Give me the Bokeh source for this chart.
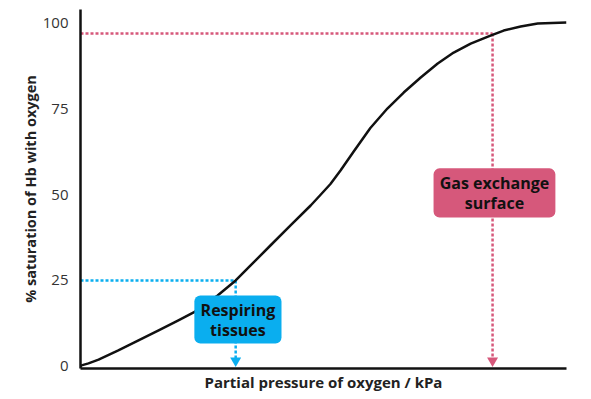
from bokeh.plotting import figure
from bokeh.models import FixedTicker, BoxAnnotation, Range1d, Label
from bokeh.embed import file_html
from bokeh.resources import INLINE

# ---- data ----
pressure_kpa = [0.0, 0.03, 0.23, 0.52, 1.09, 1.67, 2.25, 2.82, 3.26, 3.95, 4.47, 4.90,
                5.47, 6.05, 6.63, 6.91, 7.20, 7.49, 7.87, 8.35, 8.84, 9.31, 9.80, 10.29,
                10.75, 11.24, 11.81, 12.19, 12.68, 13.17, 14.0]
saturation = [0.0, 0.3, 0.9, 2.0, 4.65, 7.56, 10.47, 13.37, 15.7, 20.64, 25.0, 29.36,
              35.17, 40.99, 46.8, 49.85, 53.05, 56.98, 62.5, 69.33, 75.0, 79.65, 84.01, 88.08,
              91.28, 93.9, 96.2, 97.67, 98.84, 99.7, 100.0]

tissue_po2, tissue_sat = 4.47, 25.0
lung_po2, lung_sat = 11.87, 96.8
y_ticks = [0, 25, 50, 75, 100]

tissue_label = ["Respiring", "tissues"]
lung_label = ["Gas exchange", "surface"]

BLUE = "#0AAEEF"
PINK = "#D6587B"
FONT = "Open Sans"

p = figure(width=590, height=398, output_backend="svg", toolbar_location=None,
           x_range=Range1d(0, 14), y_range=Range1d(-0.6, 103.8),
           min_border_left=80, min_border_right=24, min_border_top=9, min_border_bottom=30)
p.outline_line_color = None
p.xgrid.visible = False
p.ygrid.visible = False
p.background_fill_color = "white"
p.border_fill_color = "white"

# y axis
ya = p.yaxis[0]
ya.ticker = FixedTicker(ticks=y_ticks)
ya.major_tick_out = 0
ya.major_tick_in = 0
ya.minor_tick_out = 0
ya.minor_tick_in = 0
ya.axis_line_width = 2.5
ya.axis_line_color = "#111111"
ya.major_label_text_font = FONT
ya.major_label_text_font_size = "15px"
ya.major_label_text_color = "#333333"
ya.major_label_standoff = 12
ya.axis_label = "% saturation of Hb with oxygen"
ya.axis_label_text_font = FONT
ya.axis_label_text_font_size = "14.5px"
ya.axis_label_text_font_style = "bold"
ya.axis_label_text_color = "#222222"
ya.axis_label_standoff = 0

# x axis
xa = p.xaxis[0]
xa.ticker = FixedTicker(ticks=[])
xa.major_tick_out = 0
xa.major_tick_in = 0
xa.minor_tick_out = 0
xa.minor_tick_in = 0
xa.major_label_text_font_size = "0px"
xa.major_label_standoff = 0
xa.axis_line_width = 2.5
xa.axis_line_color = "#111111"
xa.axis_label = "Partial pressure of oxygen / kPa"
xa.axis_label_text_font = FONT
xa.axis_label_text_font_size = "15px"
xa.axis_label_text_font_style = "bold"
xa.axis_label_text_color = "#222222"
xa.axis_label_standoff = 3

# dotted guide lines
p.line([0, tissue_po2], [tissue_sat, tissue_sat], line_color=BLUE, line_width=2.5, line_dash="3 2")
p.line([tissue_po2, tissue_po2], [tissue_sat, 1.7], line_color=BLUE, line_width=2.5, line_dash="3 2")
p.line([0, lung_po2], [lung_sat, lung_sat], line_color=PINK, line_width=2.5, line_dash="3 2")
p.line([lung_po2, lung_po2], [lung_sat, 1.7], line_color=PINK, line_width=2.5, line_dash="3 2")

# arrow heads
p.scatter([tissue_po2], [1.7], marker="inverted_triangle", size=11, fill_color=BLUE, line_color=None)
p.scatter([lung_po2], [1.7], marker="inverted_triangle", size=11, fill_color=PINK, line_color=None)

# the curve
p.line(pressure_kpa, saturation, line_color="#111111", line_width=2.5, line_join="round")

# labelled boxes
p.add_layout(BoxAnnotation(left=3.28, right=5.79, bottom=6.7, top=20.6, fill_color=BLUE,
                           fill_alpha=1, line_color=None, border_radius=6, level="overlay"))
p.add_layout(BoxAnnotation(left=10.17, right=13.68, bottom=43.3, top=57.6, fill_color=PINK,
                           fill_alpha=1, line_color=None, border_radius=6, level="overlay"))

tx = (3.28 + 5.79) / 2
lx = (10.17 + 13.68) / 2
for txt, yy in zip(tissue_label, [16.3, 10.5]):
    p.add_layout(Label(x=tx, y=yy, text=txt, text_align="center", text_baseline="middle",
                       text_font=FONT, text_font_size="16px", text_font_style="bold",
                       text_color="#111111", level="overlay"))
for txt, yy in zip(lung_label, [53.2, 47.4]):
    p.add_layout(Label(x=lx, y=yy, text=txt, text_align="center", text_baseline="middle",
                       text_font=FONT, text_font_size="16px", text_font_style="bold",
                       text_color="#111111", level="overlay"))

open("out.html", "w").write(file_html(p, INLINE))
